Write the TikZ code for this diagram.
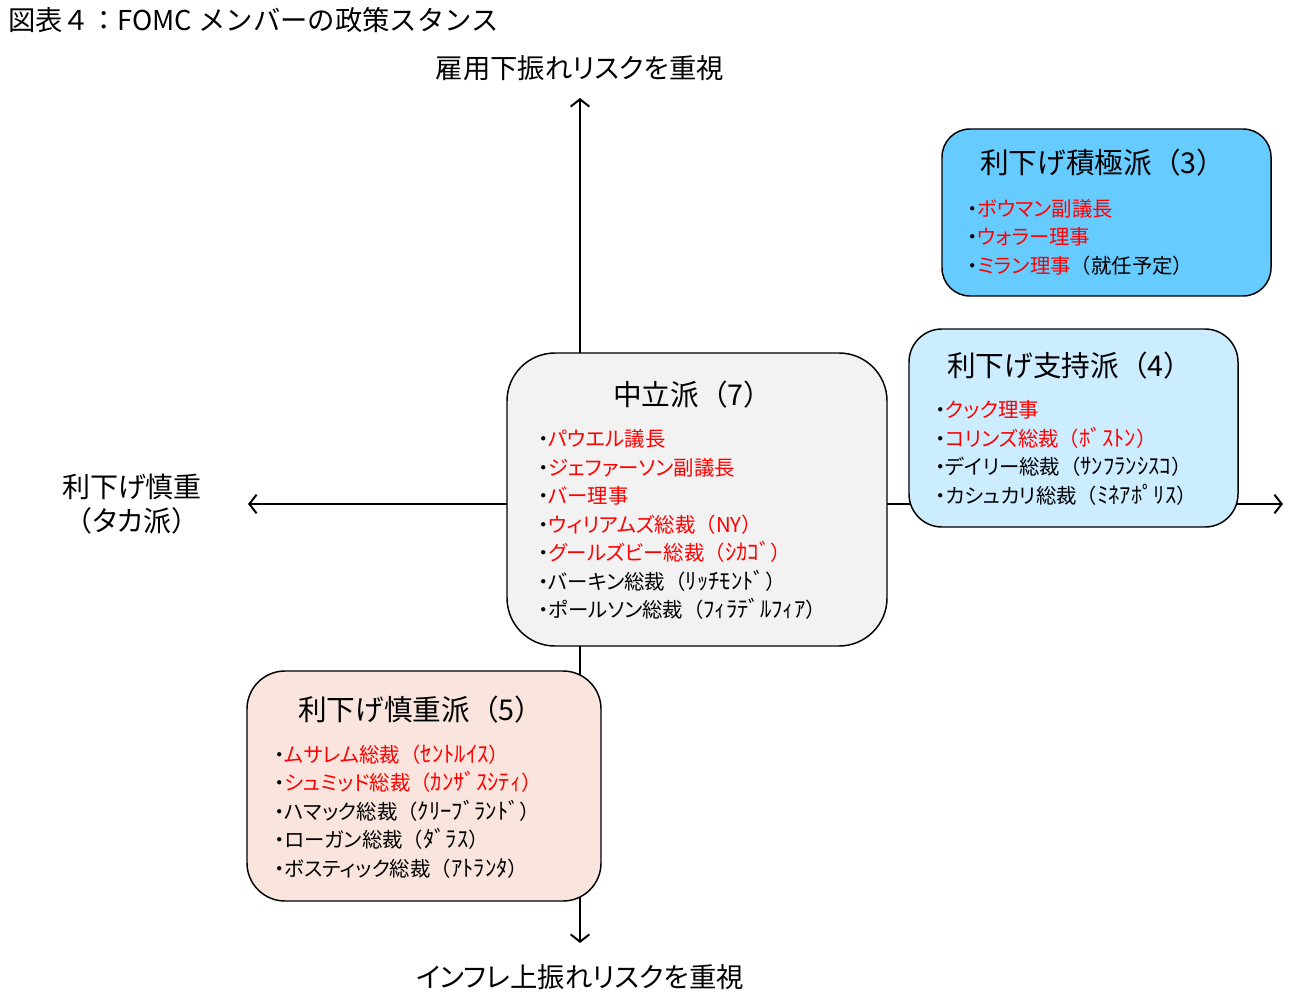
\documentclass[tikz,border=0pt]{standalone}
\usepackage{fontspec}
\setmainfont[RawFeature=+palt]{Noto Sans CJK JP}
\newfontfamily\titlefont{Noto Sans CJK JP}
\newfontfamily\nopalt{Noto Sans CJK JP}
\usetikzlibrary{arrows.meta}
\definecolor{cblue}{HTML}{66CCFF}
\definecolor{clight}{HTML}{CCECFF}
\definecolor{cgray}{HTML}{F2F2F2}
\definecolor{cpink}{HTML}{F9E5DE}
\definecolor{cred}{HTML}{FF0000}
\newcommand\redtx[1]{\textcolor{cred}{#1}}
\newcommand\lpar{{\nopalt （}}
\newcommand\rpar{{\nopalt ）}}
\newcommand\city[1]{{\nopalt （{\fontsize{17}{21.4}\selectfont #1}）}}
\begin{document}
\begin{tikzpicture}[x=0.75pt,y=-0.75pt,
  box/.style={draw=black,line width=1.1pt,inner sep=0pt},
  ttl/.style={inner sep=0pt,anchor=west,font=\nopalt\fontsize{21.5}{24}\selectfont},
  lst/.style={inner sep=0pt,anchor=west,align=left,font=\fontsize{15.3}{21.4}\selectfont},
  axlab/.style={inner sep=0pt,font=\fontsize{20.5}{25.5}\selectfont,align=center},
  axis/.style={line width=1.5pt,{Straight Barb[length=5.5pt,width=14pt,line width=1.5pt]}-{Straight Barb[length=5.5pt,width=14pt,line width=1.5pt]}}]
\useasboundingbox (0,0) rectangle (1294,1005);
% title
\node[inner sep=0pt,anchor=west,font=\titlefont\fontsize{20.5}{24}\selectfont] (title) at (8,20) {図表４：FOMC メンバーの政策スタンス};
% axes
\coordinate (top) at (580,98);
\coordinate (bot) at (580,943);
\coordinate (lft) at (248,504);
\coordinate (rgt) at (1283,504);
\draw[axis] (bot) -- (top);
\draw[axis] (lft) -- (rgt);
% axis labels
\node[axlab] (ltop) at (580,68) {雇用下振れリスクを重視};
\node[axlab] (lbot) at (580,977) {インフレ上振れリスクを重視};
\node[axlab,font=\fontsize{21}{25.5}\selectfont] (llft) at (132,504) {利下げ慎重\\\lpar タカ派\rpar};
% box 1
\node[box,fill=cblue,minimum width=246.75pt,minimum height=125.25pt,rounded corners=21pt] (b1) at (1106.5,212.5) {};
\node[ttl] (t1) at (980,163) {利下げ積極派（3）};
\node[lst] (l1) at (967,237) {・\redtx{ボウマン副議長}\\・\redtx{ウォラー理事}\\・\redtx{ミラン理事}\lpar 就任予定\rpar};
% box 2
\node[box,fill=clight,minimum width=246.75pt,minimum height=148.5pt,rounded corners=24.75pt] (b2) at (1073.5,428) {};
\node[ttl] (t2) at (947,366) {利下げ支持派（4）};
\node[lst] (l2) at (935,453) {・\redtx{クック理事}\\・\redtx{コリンズ総裁\city{ﾎﾞｽﾄﾝ}}\\・デイリー総裁\city{ｻﾝﾌﾗﾝｼｽｺ}\\・カシュカリ総裁\city{ﾐﾈｱﾎﾟﾘｽ}};
% box 3
\node[box,fill=cgray,minimum width=285pt,minimum height=219.75pt,rounded corners=36pt] (b3) at (697,499.5) {};
\node[ttl] (t3) at (613,395) {中立派（7）};
\node[lst] (l3) at (538,524.5) {・\redtx{パウエル議長}\\・\redtx{ジェファーソン副議長}\\・\redtx{バー理事}\\・\redtx{ウィリアムズ総裁\lpar NY\rpar}\\・\redtx{グールズビー総裁\city{ｼｶｺﾞ}}\\・バーキン総裁\city{ﾘｯﾁﾓﾝﾄﾞ}\\・ポールソン総裁\city{ﾌｨﾗﾃﾞﾙﾌｨｱ}};
% box 4
\node[box,fill=cpink,minimum width=265.5pt,minimum height=172.5pt,rounded corners=28.5pt] (b4) at (424,786) {};
\node[ttl] (t4) at (298,710) {利下げ慎重派（5）};
\node[lst] (l4) at (274,811.5) {・\redtx{ムサレム総裁\city{ｾﾝﾄﾙｲｽ}}\\・\redtx{シュミッド総裁\city{ｶﾝｻﾞｽｼﾃｨ}}\\・ハマック総裁\city{ｸﾘｰﾌﾞﾗﾝﾄﾞ}\\・ローガン総裁\city{ﾀﾞﾗｽ}\\・ボスティック総裁\city{ｱﾄﾗﾝﾀ}};
\end{tikzpicture}
\end{document}
